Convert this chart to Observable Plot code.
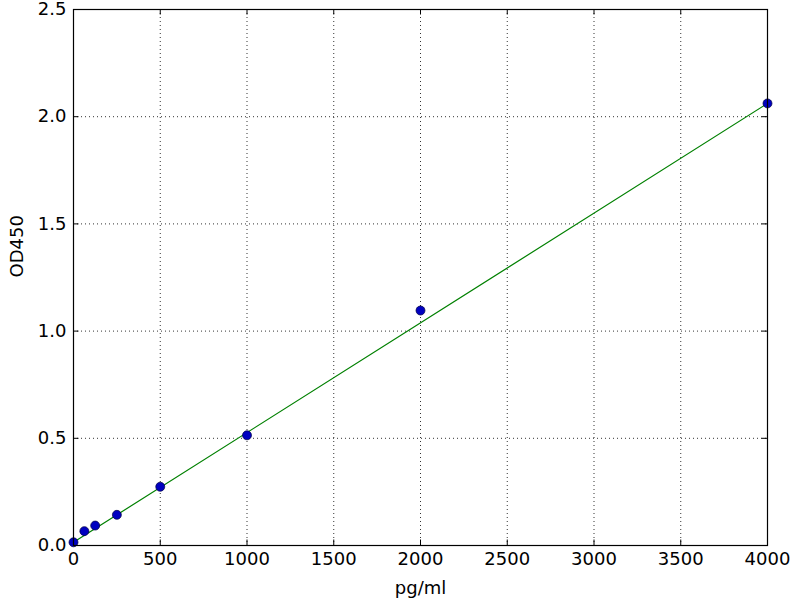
<!DOCTYPE html>
<html><head><meta charset="utf-8">
<script src="https://cdn.jsdelivr.net/npm/d3@7"></script>
<script src="https://cdn.jsdelivr.net/npm/@observablehq/plot@0.6"></script>
<style>body{margin:0;background:#fff}</style>
</head><body><div id="chart"></div>
<script>
const conc = [0, 62.5, 125, 250, 500, 1000, 2000, 4000];
const od = [0.015, 0.067, 0.093, 0.143, 0.274, 0.514, 1.096, 2.062];
const fitX = [0, 4000];
const fitY = [0.015, 2.062];
const xTicks = [0, 500, 1000, 1500, 2000, 2500, 3000, 3500, 4000];
const yTicks = [0, 0.5, 1.0, 1.5, 2.0, 2.5];

const points = conc.map((c, i) => ({x: c, y: od[i]}));
const fit = fitX.map((c, i) => ({x: c, y: fitY[i]}));
const xt = 4000 * 5.5 / 694, yt = 2.5 * 5.5 / 536;

const chart = Plot.plot({
  width: 800, height: 600,
  marginLeft: 73, marginRight: 33, marginTop: 9, marginBottom: 55,
  style: {fontFamily: "DejaVu Sans", fontSize: "18px", color: "black", background: "white"},
  x: {domain: [0, 4000]},
  y: {domain: [0, 2.5]},
  marks: [
    Plot.gridX(xTicks, {stroke: "black", strokeOpacity: 0.8, strokeDasharray: "1,3"}),
    Plot.gridY(yTicks, {stroke: "black", strokeOpacity: 0.8, strokeDasharray: "1,3"}),
    Plot.ruleX(xTicks, {y1: 0, y2: yt, stroke: "black"}),
    Plot.ruleX(xTicks, {y1: 2.5, y2: 2.5 - yt, stroke: "black"}),
    Plot.ruleY(yTicks, {x1: 0, x2: xt, stroke: "black"}),
    Plot.ruleY(yTicks, {x1: 4000, x2: 4000 - xt, stroke: "black"}),
    Plot.line(fit, {x: "x", y: "y", stroke: "#008000", strokeWidth: 1.2}),
    Plot.dot(points, {x: "x", y: "y", r: 4.5, fill: "#0000c0", stroke: "#000040", strokeWidth: 0.7, clip: false}),
    Plot.frame({stroke: "black", strokeWidth: 1.2}),
    Plot.axisX(xTicks, {tickSize: 0, tickPadding: 7, fontSize: 18, tickFormat: d => String(d), label: null}),
    Plot.axisY(yTicks, {tickSize: 0, tickPadding: 7, fontSize: 18, tickFormat: d => d.toFixed(1), label: null}),
    Plot.text(["pg/ml"], {frameAnchor: "bottom", dy: 43, fontSize: 18, lineAnchor: "middle"}),
    Plot.text(["OD450"], {frameAnchor: "left", dx: -56, rotate: -90, fontSize: 18})
  ]
});
document.getElementById("chart").appendChild(chart);
</script></body></html>
